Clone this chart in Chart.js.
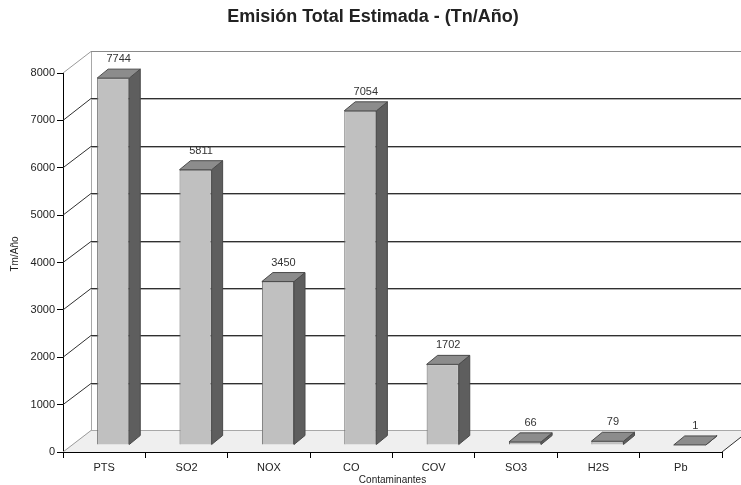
<!DOCTYPE html>
<html>
<head>
<meta charset="utf-8">
<script src="https://cdn.jsdelivr.net/npm/chart.js@4/dist/chart.umd.min.js"></script>
<style>
  html, body { margin: 0; padding: 0; background: #fff; }
  #wrap { width: 741px; height: 485px; }
</style>
</head>
<body>
<div id="wrap"><canvas id="chart"></canvas></div>
<script>
const categories = ['PTS', 'SO2', 'NOX', 'CO', 'COV', 'SO3', 'H2S', 'Pb'];
const emisiones = [7744, 5811, 3450, 7054, 1702, 66, 79, 1];
const yTicks = [0, 1000, 2000, 3000, 4000, 5000, 6000, 7000, 8000];
const chartTitle = 'Emisión Total Estimada - (Tn/Año)';
const yTitle = 'Tm/Año';

// 3d look: wall depth and where the bars sit inside it
const WALL_DX = 28, WALL_DY = 22;
const BAR_SHIFT_X = 9, BAR_SHIFT_Y = 7;
const BAR_DX = 11, BAR_DY = 9;

const FONT = "'Liberation Sans', Arial, sans-serif";

const scene3d = {
  id: 'scene3d',
  beforeDatasetsDraw(chart) {
    const { ctx, chartArea: a, scales: { y } } = chart;
    const y0 = y.getPixelForValue(0);
    const yTop = y.getPixelForValue(8000);
    ctx.save();

    // floor
    ctx.fillStyle = '#efefef';
    ctx.beginPath();
    ctx.moveTo(a.left, y0);
    ctx.lineTo(a.right, y0);
    ctx.lineTo(a.right + WALL_DX, y0 - WALL_DY);
    ctx.lineTo(a.left + WALL_DX, y0 - WALL_DY);
    ctx.closePath();
    ctx.fill();

    ctx.lineWidth = 1;
    // back wall edges
    ctx.strokeStyle = '#a8a8a8';
    ctx.beginPath();
    ctx.moveTo(a.left + WALL_DX + 0.5, yTop - WALL_DY);
    ctx.lineTo(a.left + WALL_DX + 0.5, y0 - WALL_DY);
    ctx.stroke();

    ctx.beginPath();
    ctx.moveTo(a.left + WALL_DX, Math.round(y0 - WALL_DY) + 0.5);
    ctx.lineTo(chart.width, Math.round(y0 - WALL_DY) + 0.5);
    ctx.stroke();

    // grid lines on the back wall and diagonals on the side wall
    yTicks.forEach(t => {
      const yf = y.getPixelForValue(t);
      const yb = Math.round(yf - WALL_DY) + 0.5;
      const light = (t === 0 || t === 8000);
      ctx.strokeStyle = light ? '#9a9a9a' : '#303030';
      ctx.beginPath();
      ctx.moveTo(a.left, yf);
      ctx.lineTo(a.left + WALL_DX, yb);
      ctx.stroke();
      if (t > 0) {
        ctx.strokeStyle = light ? '#8a8a8a' : '#303030';
        ctx.beginPath();
        ctx.moveTo(a.left + WALL_DX, yb);
        ctx.lineTo(chart.width, yb);
        ctx.stroke();
        if (!light) {
          ctx.strokeStyle = '#b0b0b0';
          ctx.beginPath();
          ctx.moveTo(a.left + WALL_DX, yb + 1);
          ctx.lineTo(chart.width, yb + 1);
          ctx.stroke();
        }
      }
    });

    // front edge of the floor
    ctx.strokeStyle = '#000';
    ctx.beginPath();
    ctx.moveTo(a.left, Math.round(y0) + 0.5);
    ctx.lineTo(a.right, Math.round(y0) + 0.5);
    ctx.stroke();
    ctx.strokeStyle = '#303030';
    ctx.beginPath();
    ctx.moveTo(a.right, y0);
    ctx.lineTo(a.right + WALL_DX, y0 - WALL_DY);
    ctx.stroke();
    ctx.restore();
  },
  beforeDatasetDraw(chart) {
    chart.ctx.save();
    chart.ctx.translate(BAR_SHIFT_X, BAR_SHIFT_Y * -1);
  },
  afterDatasetDraw(chart, args) {
    const ctx = chart.ctx;
    const meta = args.meta;
    meta.data.forEach((bar, i) => {
      const l = bar.x - bar.width / 2;
      const r = bar.x + bar.width / 2;
      const top = bar.y, base = bar.base;
      ctx.lineWidth = 1;
      ctx.strokeStyle = '#4a4a4a';
      // side face
      ctx.fillStyle = '#5e5e5e';
      ctx.beginPath();
      ctx.moveTo(r, top);
      ctx.lineTo(r + BAR_DX, top - BAR_DY);
      ctx.lineTo(r + BAR_DX, base - BAR_DY);
      ctx.lineTo(r, base);
      ctx.closePath();
      ctx.fill();
      ctx.stroke();
      // top face
      ctx.fillStyle = '#8c8c8c';
      ctx.beginPath();
      ctx.moveTo(l, top);
      ctx.lineTo(l + BAR_DX, top - BAR_DY);
      ctx.lineTo(r + BAR_DX, top - BAR_DY);
      ctx.lineTo(r, top);
      ctx.closePath();
      ctx.fill();
      ctx.stroke();
      // value label
      ctx.fillStyle = '#333';
      ctx.font = '11px ' + FONT;
      ctx.textAlign = 'center';
      ctx.textBaseline = 'middle';
      ctx.fillText(String(emisiones[i]), bar.x + BAR_DX / 2, top - 19);
    });
    ctx.restore();
  },
  afterDraw(chart) {
    const ctx = chart.ctx;
    ctx.save();
    ctx.fillStyle = '#222';
    ctx.textAlign = 'center';
    ctx.textBaseline = 'middle';
    ctx.font = 'bold 18px ' + FONT;
    ctx.fillText(chartTitle, 373, 17);
    ctx.translate(15, 254);
    ctx.rotate(-Math.PI / 2);
    ctx.font = '10px ' + FONT;
    ctx.fillText(yTitle, 0, 0);
    ctx.restore();
  }
};

new Chart(document.getElementById('chart'), {
  type: 'bar',
  data: {
    labels: categories,
    datasets: [{
      label: 'Emisión',
      data: emisiones,
      backgroundColor: '#c0c0c0',
      borderColor: '#6a6a6a',
      borderWidth: 1,
      barPercentage: 0.39,
      categoryPercentage: 1,
      clip: false
    }]
  },
  options: {
    responsive: true,
    maintainAspectRatio: false,
    animation: false,
    layout: { padding: { left: 0, right: 19, top: 73, bottom: 0 } },
    plugins: {
      legend: { display: false },
      tooltip: { enabled: false },
      title: { display: false }
    },
    scales: {
      x: {
        grid: { display: true, drawOnChartArea: false, tickLength: 6, color: '#000', offset: true },
        border: { display: true, color: '#000' },
        ticks: { color: '#222', font: { family: FONT, size: 11 }, padding: 3 },
        title: {
          display: true,
          text: 'Contaminantes',
          color: '#222',
          font: { family: FONT, size: 10, lineHeight: 1 },
          padding: { top: 0, bottom: 0 }
        },
        afterFit(scale) { scale.height = 33; }
      },
      y: {
        min: 0,
        max: 8000,
        afterBuildTicks(scale) { scale.ticks = yTicks.map(v => ({ value: v })); },
        grid: { display: true, drawOnChartArea: false, tickLength: 6, color: '#000' },
        border: { display: true, color: '#000' },
        ticks: {
          color: '#222',
          font: { family: FONT, size: 11 },
          padding: 2,
          callback: v => String(v)
        },
        title: { display: false },
        afterFit(scale) { scale.width = 63; }
      }
    }
  },
  plugins: [scene3d]
});
</script>
</body>
</html>
